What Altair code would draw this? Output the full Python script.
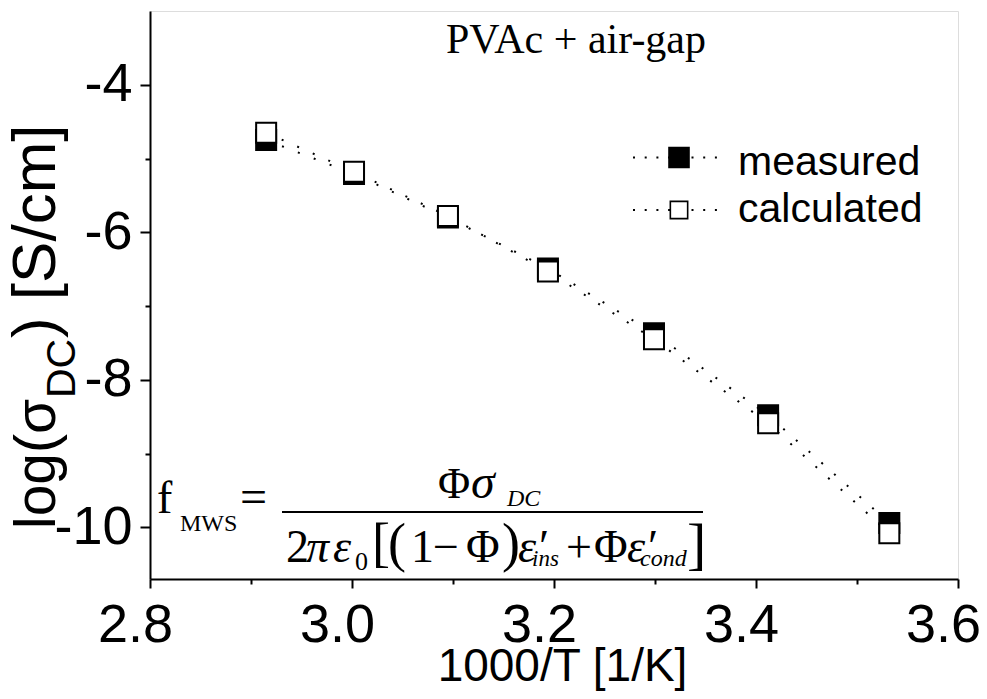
import altair as alt
import pandas as pd

# ---------------- data ----------------
inv_t = [2.915, 3.002, 3.095, 3.194, 3.299, 3.412, 3.532]
log_measured = [-4.75, -5.21, -5.80, -6.49, -7.37, -8.48, -9.94]
log_calculated = [-4.65, -5.18, -5.78, -6.53, -7.45, -8.59, -10.08]
series_names = ["measured", "calculated"]

x_major = [2.8, 3.0, 3.2, 3.4, 3.6]
x_minor = [2.9, 3.1, 3.3, 3.5]
y_major = [-10, -8, -6, -4]
y_minor = [-9, -7, -5]

df = pd.DataFrame({
    "x": inv_t + inv_t,
    "y": log_measured + log_calculated,
    "series": [series_names[0]] * len(inv_t) + [series_names[1]] * len(inv_t),
})
one = pd.DataFrame({"k": [0]})

# ---------------- geometry ----------------
X0, Y0 = 150, 11          # page position of plot origin
W, H = 808, 568

SANS = "Liberation Sans"
SERIF = "Liberation Serif"

xs = alt.Scale(domain=[2.8, 3.6], nice=False, zero=False)
ys = alt.Scale(domain=[-10.7, -3.0], nice=False, zero=False)

common_axis = dict(grid=False, domainColor="black", domainWidth=2,
                   tickColor="black", tickWidth=2, labelColor="black",
                   titleColor="black")

x_axis_major = alt.Axis(values=x_major, labelExpr="format(datum.value, '.1f')",
                        tickSize=9, labelFont=SANS, labelFontSize=54,
                        labelPadding=10, labelOffset=-15, labelFlush=False,
                        labelOverlap=False,
                        title="1000/T [1/K]", titleFont=SANS, titleFontSize=46,
                        titleFontWeight="normal", titleX=412, titleY=101,
                        titleBaseline="alphabetic", titleAlign="center",
                        orient="bottom", **common_axis)
y_axis_major = alt.Axis(values=y_major, labelExpr="'' + datum.value",
                        tickSize=10, labelFont=SANS, labelFontSize=54,
                        labelPadding=8, labelFlush=False, labelOverlap=False,
                        title=None, orient="left", **common_axis)
x_axis_minor = alt.Axis(values=x_minor, tickSize=5, labels=False, domain=False,
                        title=None, orient="bottom", grid=False,
                        tickColor="black", tickWidth=2)
y_axis_minor = alt.Axis(values=y_minor, tickSize=5, labels=False, domain=False,
                        title=None, orient="left", grid=False,
                        tickColor="black", tickWidth=2)

lines = alt.Chart(df).mark_line(strokeDash=[2, 15], strokeWidth=2, color="black").encode(
    x=alt.X("x:Q", scale=xs, axis=x_axis_minor),
    y=alt.Y("y:Q", scale=ys, axis=y_axis_minor),
    detail="series:N",
)

measured_pts = alt.Chart(df).transform_filter(
    alt.datum.series == series_names[0]
).mark_point(shape="square", filled=True, fill="black", stroke="black",
             strokeWidth=2, size=400, opacity=1).encode(
    x=alt.X("x:Q", scale=xs, axis=x_axis_major),
    y=alt.Y("y:Q", scale=ys, axis=y_axis_major),
)

calc_pts = alt.Chart(df).transform_filter(
    alt.datum.series == series_names[1]
).mark_point(shape="square", filled=True, fill="white", stroke="black",
             strokeWidth=2, size=400, opacity=1).encode(
    x=alt.X("x:Q", scale=xs, axis=None),
    y=alt.Y("y:Q", scale=ys, axis=None),
)


def txt(s, xp, yp, size, font=SERIF, style="normal", align="left",
        baseline="alphabetic", angle=0):
    return alt.Chart(one).mark_text(
        text=s, font=font, fontSize=size, fontStyle=style, align=align,
        baseline=baseline, angle=angle, color="black"
    ).encode(x=alt.value(xp - X0), y=alt.value(yp - Y0))


def hrule(x1, x2, yp, width=2, dash=None):
    kw = dict(color="black", strokeWidth=width)
    if dash:
        kw["strokeDash"] = dash
    return alt.Chart(one).mark_rule(**kw).encode(
        x=alt.value(x1 - X0), x2=alt.value(x2 - X0), y=alt.value(yp - Y0))


def sq(xp, yp, size, fill):
    return alt.Chart(one).mark_point(shape="square", filled=True, fill=fill,
                                     stroke="black", strokeWidth=1.6,
                                     size=size, opacity=1).encode(
        x=alt.value(xp - X0), y=alt.value(yp - Y0))


annos = []
# y-axis title (rotated)
annos += [
    txt("log(σ", 55, 529, 57, font=SANS, angle=270),
    txt("DC", 75, 398, 41, font=SANS, angle=270),
    txt(") [S/cm]", 55, 338, 62, font=SANS, angle=270),
]
# inset label
annos += [txt("PVAc + air-gap", 576, 53, 42, align="center")]
# legend
annos += [
    hrule(633, 722, 157.5, width=2, dash=[2, 9.7]),
    hrule(633, 722, 210, width=2, dash=[2, 9.7]),
    sq(679, 157.5, 400, "black"),
    sq(679, 210, 300, "white"),
    txt(series_names[0], 738, 175, 41, font=SANS),
    txt(series_names[1], 738, 222, 41, font=SANS),
]
# formula
annos += [
    txt("f", 157, 513, 46),
    txt("MWS", 180, 531, 24),
    txt("=", 240, 513, 48),
    txt("Φ", 438, 498, 44),
    txt("σ", 471, 498, 48, style="italic"),
    txt("DC", 507, 506, 24, style="italic"),
    hrule(282, 703, 512, width=2),
    txt("2", 286, 562, 46),
    txt("π", 306, 562, 46, style="italic"),
    txt("ε", 333, 562, 46, style="italic"),
    txt("0", 355, 570, 26),
    txt("[", 372, 561, 54),
    txt("(", 388, 561, 54),
    txt("1", 411, 562, 46),
    txt("−", 433, 562, 46),
    txt("Φ", 466, 562, 46),
    txt(")", 502, 561, 54),
    txt("ε′", 518, 562, 46, style="italic"),
    txt("ins", 532, 566, 23, style="italic"),
    txt("+", 566, 562, 46),
    txt("Φ", 594, 562, 46),
    txt("ε′", 627, 562, 46, style="italic"),
    txt("cond", 640, 566, 24, style="italic"),
    txt("]", 687, 563, 58),
]

chart = alt.layer(lines, measured_pts, calc_pts, *annos).resolve_axis(
    x="independent", y="independent"
).properties(
    width=W, height=H,
    autosize=alt.AutoSizeParams(type="none"),
    padding={"left": X0 - 8, "top": Y0 - 8, "right": 21, "bottom": 112},
).configure_view(stroke="black", strokeWidth=2).configure(background="white")

chart.save("out.html", embed_options={"renderer": "svg", "actions": False})
